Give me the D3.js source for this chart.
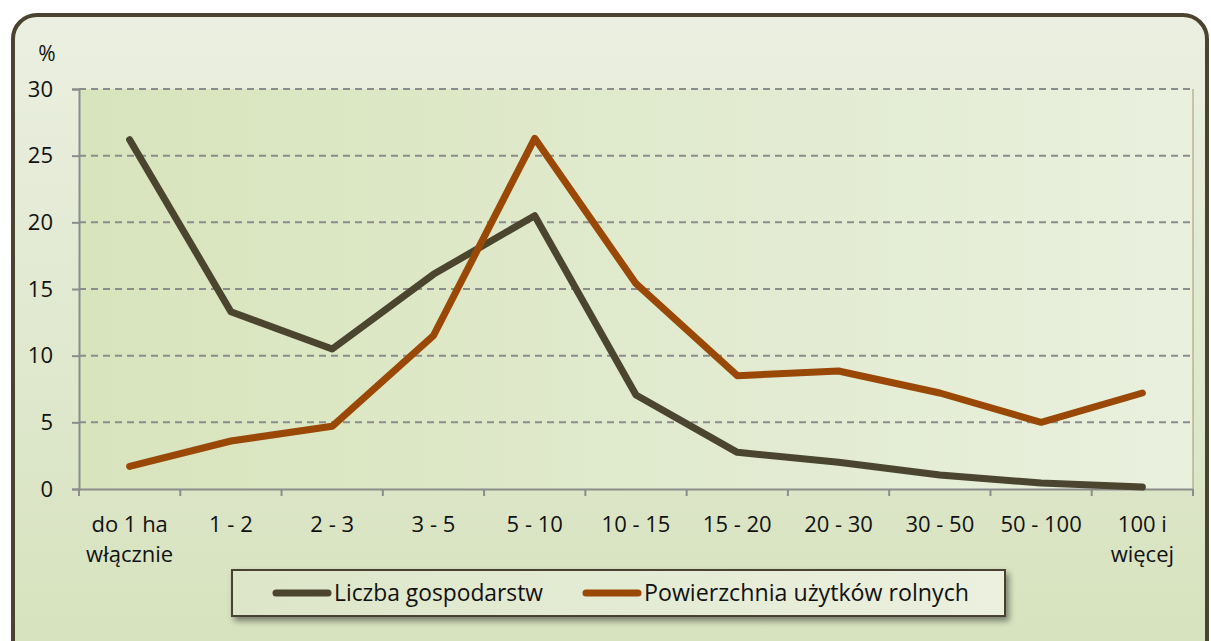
<html>
<head>
<meta charset="utf-8">
<script src="https://d3js.org/d3.v7.min.js"></script>
<style>
  body { margin: 0; background: #fff; }
  text { font-family: "Open Sans", Lato, sans-serif; fill: #111; }
</style>
</head>
<body>
<svg id="chart" width="1211" height="641"></svg>
<script>
var categories = [["do 1 ha", "włącznie"], ["1 - 2"], ["2 - 3"], ["3 - 5"], ["5 - 10"], ["10 - 15"],
                  ["15 - 20"], ["20 - 30"], ["30 - 50"], ["50 - 100"], ["100 i", "więcej"]];
var farms = [26.2, 13.3, 10.5, 16.1, 20.5, 7.05, 2.75, 2.0, 1.05, 0.45, 0.15];
var area = [1.7, 3.6, 4.7, 11.5, 26.3, 15.4, 8.5, 8.85, 7.2, 5.0, 7.2];
var yTicks = [0, 5, 10, 15, 20, 25, 30];
var seriesNames = ["Liczba gospodarstw", "Powierzchnia użytków rolnych"];
var seriesColors = ["#4b452f", "#9a4806"];

var svg = d3.select("#chart");
var defs = svg.append("defs");

var outerGrad = defs.append("linearGradient").attr("id", "outerGrad")
  .attr("x1", 0).attr("y1", 0).attr("x2", 0).attr("y2", 1);
outerGrad.append("stop").attr("offset", "0%").attr("stop-color", "#ebefe1");
outerGrad.append("stop").attr("offset", "100%").attr("stop-color", "#d6e2bd");

var plotGrad = defs.append("linearGradient").attr("id", "plotGrad")
  .attr("x1", 0).attr("y1", 0).attr("x2", 1).attr("y2", 0);
plotGrad.append("stop").attr("offset", "0%").attr("stop-color", "#d8e4bc");
plotGrad.append("stop").attr("offset", "100%").attr("stop-color", "#e9f0de");

var legGrad = defs.append("linearGradient").attr("id", "legGrad")
  .attr("x1", 0).attr("y1", 0).attr("x2", 1).attr("y2", 0);
legGrad.append("stop").attr("offset", "0%").attr("stop-color", "#dde6c8");
legGrad.append("stop").attr("offset", "100%").attr("stop-color", "#ebf0df");

var shadow = defs.append("filter").attr("id", "shadow")
  .attr("x", "-10%").attr("y", "-40%").attr("width", "120%").attr("height", "190%");
shadow.append("feDropShadow").attr("dx", 3).attr("dy", 4).attr("stdDeviation", 3)
  .attr("flood-color", "#000").attr("flood-opacity", 0.45);

// outer frame
svg.append("rect")
  .attr("x", 13).attr("y", 15).attr("width", 1194).attr("height", 650)
  .attr("rx", 24).attr("ry", 24)
  .attr("fill", "url(#outerGrad)")
  .attr("stroke", "#4a4330").attr("stroke-width", 4);

var pLeft = 79, pRight = 1193, pTop = 89, pBottom = 489;

var x = d3.scaleBand().domain(d3.range(categories.length)).range([pLeft, pRight]);
var y = d3.scaleLinear().domain([0, 30]).range([pBottom, pTop]);

// plot area
svg.append("rect")
  .attr("x", pLeft).attr("y", pTop).attr("width", pRight - pLeft).attr("height", pBottom - pTop)
  .attr("fill", "url(#plotGrad)");
svg.append("line")
  .attr("x1", pRight).attr("x2", pRight).attr("y1", pTop).attr("y2", pBottom)
  .attr("stroke", "#a09a6c").attr("stroke-width", 1);

// grid
svg.append("g").selectAll("line")
  .data(yTicks.filter(function(d) { return d > 0; }))
  .enter().append("line")
  .attr("x1", pLeft).attr("x2", pRight)
  .attr("y1", function(d) { return y(d); })
  .attr("y2", function(d) { return y(d); })
  .attr("stroke", "#8c8c8c").attr("stroke-width", 2)
  .attr("stroke-dasharray", "7,5");

// y axis
var yAxis = svg.append("g")
  .attr("transform", "translate(" + pLeft + ",0)")
  .call(d3.axisLeft(y).tickValues(yTicks).tickSize(7).tickPadding(19));
yAxis.select(".domain").attr("stroke", "#8c8c8c").attr("stroke-width", 2);
yAxis.selectAll(".tick line").attr("stroke", "#8c8c8c").attr("stroke-width", 2);
yAxis.selectAll(".tick text").style("font-size", "22px").style("font-family", "'Open Sans', sans-serif")
  .attr("fill", "#111");

svg.append("text").attr("x", 47).attr("y", 61).attr("text-anchor", "middle")
  .style("font-size", "21px").text("%");

// x axis
var xAxis = svg.append("g")
  .attr("transform", "translate(0," + pBottom + ")")
  .call(d3.axisBottom(x).tickSize(0).tickFormat(""));
xAxis.select(".domain").attr("stroke", "#8c8c8c").attr("stroke-width", 2);
xAxis.append("g").selectAll("line")
  .data(d3.range(categories.length + 1))
  .enter().append("line")
  .attr("x1", function(d) { return pLeft + d * x.step(); })
  .attr("x2", function(d) { return pLeft + d * x.step(); })
  .attr("y1", 0).attr("y2", 7)
  .attr("stroke", "#8c8c8c").attr("stroke-width", 2);

var labels = svg.append("g").selectAll("text")
  .data(categories).enter().append("text")
  .attr("x", function(d, i) { return x(i) + x.bandwidth() / 2; })
  .attr("y", 532)
  .attr("text-anchor", "middle")
  .style("font-size", "22px");
labels.selectAll("tspan")
  .data(function(d) { return d; })
  .enter().append("tspan")
  .attr("x", function() { return this.parentNode.getAttribute("x"); })
  .attr("dy", function(d, i) { return i === 0 ? 0 : 30; })
  .text(function(d) { return d; });

// lines
var line = d3.line()
  .x(function(d, i) { return x(i) + x.bandwidth() / 2; })
  .y(function(d) { return y(d); });

[farms, area].forEach(function(s, k) {
  svg.append("path")
    .attr("d", line(s))
    .attr("fill", "none")
    .attr("stroke", seriesColors[k])
    .attr("stroke-width", 7)
    .attr("stroke-linejoin", "round")
    .attr("stroke-linecap", "round");
});

// legend
var leg = svg.append("g");
leg.append("rect")
  .attr("x", 232).attr("y", 570).attr("width", 773).attr("height", 46)
  .attr("fill", "url(#legGrad)")
  .attr("stroke", "#4a4330").attr("stroke-width", 2)
  .attr("filter", "url(#shadow)");
var legX = [276, 586];
var legW = [209, 325];
seriesNames.forEach(function(name, k) {
  leg.append("line")
    .attr("x1", legX[k]).attr("x2", legX[k] + 52)
    .attr("y1", 593).attr("y2", 593)
    .attr("stroke", seriesColors[k]).attr("stroke-width", 7)
    .attr("stroke-linecap", "round");
  leg.append("text")
    .attr("x", legX[k] + 58).attr("y", 601)
    .attr("textLength", legW[k]).attr("lengthAdjust", "spacingAndGlyphs")
    .style("font-size", "23px")
    .text(name);
});
</script>
</body>
</html>
